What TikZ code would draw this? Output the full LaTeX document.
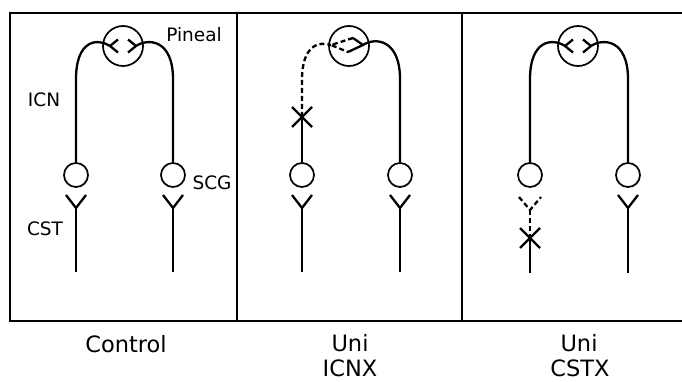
\documentclass[tikz,border=0pt]{standalone}
\usepackage{fontspec}
\setmainfont{DejaVu Sans}
\begin{document}
\begin{tikzpicture}[x=1pt,y=-1pt,
  nerve/.style={line width=2.3pt,line join=round},
  cutnerve/.style={nerve,dash pattern=on 5pt off 3pt},
  frameline/.style={line width=1.3pt},
  soma/.style={circle,draw,line width=1.7pt,minimum size=24pt,inner sep=0pt},
  gland/.style={circle,draw,line width=1.7pt,minimum size=40pt,inner sep=0pt},
  lbl/.style={font=\fontsize{18.5}{20}\selectfont,inner sep=0pt},
  caption/.style={font=\fontsize{22.5}{26}\selectfont,inner sep=0pt}]
\useasboundingbox (0,0) rectangle (682,382);
% frame
\coordinate (TL) at (10,13); \coordinate (TR) at (682,13);
\coordinate (BL) at (10,321); \coordinate (BR) at (682,321);
\coordinate (D1t) at (237,13); \coordinate (D1b) at (237,321);
\coordinate (D2t) at (462,13); \coordinate (D2b) at (462,321);
\draw[frameline] (TR) -- (TL) -- (BL) -- (BR);
\draw[frameline] (D1t) -- (D1b);
\draw[frameline] (D2t) -- (D2b);

% ---------- Panel 1: Control ----------
\begin{scope}
\node[gland] (pin1) at (123,46) {};
\node[soma] (L1) at (76,175) {};
\node[soma] (R1) at (173,175) {};
\coordinate (la1) at (110,46); \coordinate (ra1) at (136,46);
\draw[nerve] ([shift={(8,-6.5)}]la1) -- (la1) -- ([shift={(8,6.5)}]la1);
\draw[nerve] ([shift={(-8,-6.5)}]ra1) -- (ra1) -- ([shift={(-8,6.5)}]ra1);
\draw[nerve] (L1.north) -- ++(0,-83) .. controls +(0,-40) and +(-12,-8) .. (la1);
\draw[nerve] (R1.north) -- ++(0,-83) .. controls +(0,-40) and +(12,-8) .. (ra1);
\coordinate (Ly1) at (76,208); \coordinate (Le1) at (76,272);
\coordinate (Ry1) at (173,208); \coordinate (Re1) at (173,272);
\draw[nerve] ([shift={(-10,-13)}]Ly1) -- (Ly1) -- ([shift={(10,-13)}]Ly1);
\draw[nerve] (Ly1) -- (Le1);
\draw[nerve] ([shift={(-10,-13)}]Ry1) -- (Ry1) -- ([shift={(10,-13)}]Ry1);
\draw[nerve] (Ry1) -- (Re1);
\node[lbl] (tpin) at (194,35) {Pineal};
\node[lbl] (ticn) at (44,100) {ICN};
\node[lbl] (tscg) at (212,183) {SCG};
\node[lbl] (tcst) at (45,229) {CST};
\node[caption] (tctl) at (126,344) {Control};
\end{scope}

% ---------- Panel 2: Uni ICNX ----------
\begin{scope}[xshift=226pt]
\node[gland] (pin2) at (123,46) {};
\node[soma] (L2) at (76,175) {};
\node[soma] (R2) at (174,175) {};
\coordinate (dl2) at (105,45); \coordinate (dt2) at (127,38);
\coordinate (dr2) at (137,45); \coordinate (db2) at (122,52);
\draw[cutnerve] (dt2) -- (dl2) -- (db2);
\draw[nerve] (dt2) -- (dr2) -- (db2);
\coordinate (X2) at (76,117);
\draw[nerve] ([shift={(-10,-10)}]X2) -- ([shift={(10,10)}]X2);
\draw[nerve] ([shift={(10,-10)}]X2) -- ([shift={(-10,10)}]X2);
\draw[nerve] (L2.north) -- (X2);
\draw[cutnerve] (X2) -- ++(0,-37) .. controls +(0,-35) and +(-12,-4) .. (dl2);
\draw[nerve] (R2.north) -- ++(0,-83) .. controls +(0,-40) and +(12,-8) .. (dr2);
\coordinate (Ly2) at (76,208); \coordinate (Le2) at (76,272);
\coordinate (Ry2) at (174,208); \coordinate (Re2) at (174,272);
\draw[nerve] ([shift={(-10,-13)}]Ly2) -- (Ly2) -- ([shift={(10,-13)}]Ly2);
\draw[nerve] (Ly2) -- (Le2);
\draw[nerve] ([shift={(-10,-13)}]Ry2) -- (Ry2) -- ([shift={(10,-13)}]Ry2);
\draw[nerve] (Ry2) -- (Re2);
\node[caption] (tuni2) at (124,343) {Uni};
\node[caption] (ticnx) at (124,368) {ICNX};
\end{scope}

% ---------- Panel 3: Uni CSTX ----------
\begin{scope}[xshift=455pt]
\node[gland] (pin3) at (123,46) {};
\node[soma] (L3) at (75,175) {};
\node[soma] (R3) at (173,175) {};
\coordinate (la3) at (110,46); \coordinate (ra3) at (136,46);
\draw[nerve] ([shift={(8,-6.5)}]la3) -- (la3) -- ([shift={(8,6.5)}]la3);
\draw[nerve] ([shift={(-8,-6.5)}]ra3) -- (ra3) -- ([shift={(-8,6.5)}]ra3);
\draw[nerve] (L3.north) -- ++(0,-83) .. controls +(0,-40) and +(-12,-8) .. (la3);
\draw[nerve] (R3.north) -- ++(0,-83) .. controls +(0,-40) and +(12,-8) .. (ra3);
\coordinate (Ly3) at (75,210); \coordinate (X3) at (75,238); \coordinate (Le3) at (75,273);
\draw[cutnerve] ([shift={(-11,-13)}]Ly3) -- (Ly3) -- ([shift={(11,-13)}]Ly3);
\draw[cutnerve] (Ly3) -- (X3);
\draw[nerve] ([shift={(-10,-10)}]X3) -- ([shift={(10,10)}]X3);
\draw[nerve] ([shift={(10,-10)}]X3) -- ([shift={(-10,10)}]X3);
\draw[nerve] (X3) -- (Le3);
\coordinate (Ry3) at (173,208); \coordinate (Re3) at (173,273);
\draw[nerve] ([shift={(-10,-13)}]Ry3) -- (Ry3) -- ([shift={(10,-13)}]Ry3);
\draw[nerve] (Ry3) -- (Re3);
\node[caption] (tuni3) at (124,343) {Uni};
\node[caption] (tcstx) at (125,368) {CSTX};
\end{scope}
\end{tikzpicture}
\end{document}
